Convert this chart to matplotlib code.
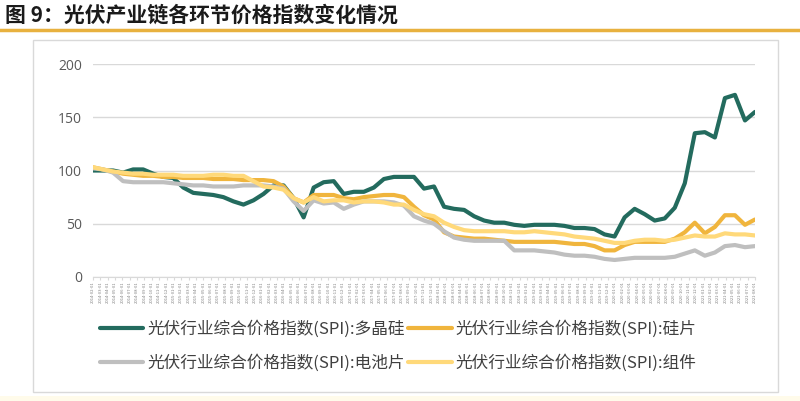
import matplotlib.pyplot as plt
import numpy as np
import pandas as pd
from matplotlib.patches import Rectangle
from matplotlib.lines import Line2D

plt.rcParams['font.family'] = ['Noto Sans CJK SC', 'DejaVu Sans']

# values, one every ~10px along the x axis
poly = [100, 100, 100, 98, 101, 101, 97, 94, 93, 84, 79, 78, 77, 75, 71, 68, 72, 78, 86, 86,
        74, 56, 84, 89, 90, 78, 80, 80, 84, 92, 94, 94, 94, 83, 85, 66, 64, 63, 57, 53,
        51, 51, 49, 48, 49, 49, 49, 48, 46, 46, 45, 40, 38, 56, 64, 59, 53, 55, 65, 88,
        135, 136, 131, 168, 171, 147, 155]
wafer = [103, 101, 99, 97, 96, 95, 95, 94, 94, 93, 93, 93, 92, 92, 92, 91, 91, 91, 90, 85,
         74, 70, 77, 77, 77, 74, 73, 75, 76, 77, 77, 75, 66, 58, 54, 42, 38, 37, 36, 36,
         35, 34, 33, 33, 33, 33, 33, 32, 31, 31, 29, 25, 25, 30, 33, 33, 33, 33, 36, 42,
         51, 41, 47, 58, 58, 49, 54]
cell = [102, 101, 98, 90, 89, 89, 89, 89, 88, 87, 86, 86, 85, 85, 85, 86, 86, 86, 85, 83,
        71, 62, 72, 69, 70, 64, 68, 71, 71, 71, 70, 67, 57, 53, 50, 43, 37, 35, 34, 34,
        34, 34, 25, 25, 25, 24, 23, 21, 20, 20, 19, 17, 16, 17, 18, 18, 18, 18, 19, 22,
        25, 20, 23, 29, 30, 28, 29]
module = [103, 101, 99, 98, 97, 97, 96, 96, 96, 95, 95, 95, 96, 96, 95, 95, 90, 85, 84, 82,
          74, 70, 75, 71, 72, 72, 70, 71, 71, 70, 68, 68, 63, 59, 57, 51, 47, 44, 43, 43,
          43, 43, 42, 42, 43, 42, 41, 40, 38, 37, 36, 34, 32, 32, 34, 35, 35, 34, 35, 37,
          39, 38, 38, 41, 40, 40, 39]

names = ['光伏行业综合价格指数(SPI):多晶硅', '光伏行业综合价格指数(SPI):硅片',
         '光伏行业综合价格指数(SPI):电池片', '光伏行业综合价格指数(SPI):组件']
colors = ['#236B5E', '#F0B53D', '#BFBFBF', '#FFD97A']

# date labels on the x axis are too small to read, so just a monthly run of dates
date_labels = [d.strftime('%Y-%m-%d') for d in pd.date_range('2014-01-03', periods=91, freq='MS')]

fig = plt.figure(figsize=(8, 4.01), dpi=100)
ax = fig.add_axes([93 / 800, 1 - 277 / 401, (755 - 93) / 800, (277 - 64) / 401])

x = np.arange(len(poly))
lines = []
for vals, c, n in zip([poly, wafer, cell, module], colors, names):
    ln, = ax.plot(x, vals, color=c, lw=3, solid_capstyle='round', solid_joinstyle='round', label=n)
    lines.append(ln)

ax.set_xlim(0, len(poly) - 1)
ax.set_ylim(0, 200)
ax.set_yticks([0, 50, 100, 150, 200])
ax.yaxis.grid(True, color='#D9D9D9', lw=1)
ax.set_axisbelow(True)
for s in ['top', 'right', 'left']:
    ax.spines[s].set_visible(False)
ax.spines['bottom'].set_color('#D9D9D9')
ax.tick_params(axis='y', length=0, pad=8, labelsize=10, labelcolor='#595959')
ax.set_xticks(np.linspace(0, len(poly) - 1, len(date_labels)))
ax.set_xticklabels(date_labels, rotation=90, fontsize=3, color='#808080')
ax.tick_params(axis='x', length=2, color='#D9D9D9', pad=1)
for t in ax.get_yticklabels():
    t.set_family(['Open Sans', 'DejaVu Sans'])

fig.legend([lines[0], lines[2], lines[1], lines[3]],
           [names[0], names[2], names[1], names[3]],
           ncol=2, loc='center left', bbox_to_anchor=(100 / 800, 1 - 346 / 401),
           frameon=False, fontsize=12, handlelength=2.6, handletextpad=0.25,
           columnspacing=0.2, labelspacing=1.0, borderpad=0, borderaxespad=0,
           labelcolor='#404040')

# title and page decorations
fig.text(5 / 800, 1 - 15 / 401, '图 9：光伏产业链各环节价格指数变化情况', fontsize=15,
         fontweight='bold', color='#1a1a1a', va='center', ha='left')
fig.add_artist(Line2D([0, 1], [1 - 30 / 401] * 2, color='#E8B13F', lw=2.5))
fig.add_artist(Rectangle((33 / 800, 1 - 392 / 401), (778 - 33) / 800, (392 - 40) / 401,
                         fill=False, edgecolor='#D9D9D9', lw=1))
fig.add_artist(Rectangle((0, 0), 1, 5 / 401, color='#FFFBEA', lw=0))

fig.savefig('out.png', dpi=100)
